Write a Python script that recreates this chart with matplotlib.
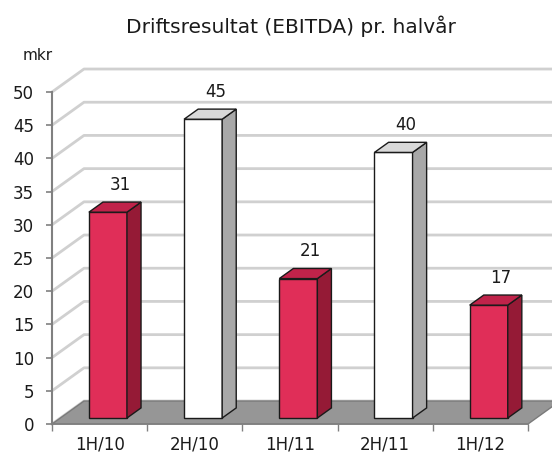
import matplotlib.pyplot as plt
from matplotlib.patches import Polygon

# Data
categories = ['1H/10', '2H/10', '1H/11', '2H/11', '1H/12']
values = [31, 45, 21, 40, 17]
bar_styles = ['red', 'white', 'red', 'white', 'red']

title = 'Driftsresultat (EBITDA) pr. halvår'
unit = 'mkr'

# Colours for the three visible faces of each bar (front, side, top)
face_colors = {
    'red': ('#e02e58', '#951a36', '#c0234a'),
    'white': ('#ffffff', '#a8a8a8', '#d9d9d9'),
}

# depth of the 3D box in data units (category units, value units)
DX, DY = 0.336, 3.46
D0, D1 = 0.26, 0.70    # bars sit between these depth fractions
BAR_W = 0.40

fig = plt.figure(figsize=(5.52, 4.55), dpi=100)
ax = fig.add_axes([52 / 552, 1 - 424 / 455, 476 / 552, 332 / 455])
ax.set_xlim(-0.5, 4.5)
ax.set_ylim(0, 50)
ax.patch.set_visible(False)

n = len(categories)
x0, x1 = -0.5, n - 0.5

# gridlines along left wall and back wall
for v in range(0, 51, 5):
    ax.plot([x0, x0 + DX, x1 + DX + 0.2], [v, v + DY, v + DY],
            color='#d0d0d0', lw=2, clip_on=False, zorder=1)

# floor
floor = Polygon([(x0, 0), (x1, 0), (x1 + DX, DY), (x0 + DX, DY)],
                closed=True, facecolor='#969696', edgecolor='#7a7a7a',
                lw=1, clip_on=False, zorder=2)
ax.add_patch(floor)

# bars
for i, (v, style) in enumerate(zip(values, bar_styles)):
    front_c, side_c, top_c = face_colors[style]
    xl = i - BAR_W / 2 + D0 * DX
    xr = xl + BAR_W
    yb = D0 * DY
    yt = yb + v
    ddx = (D1 - D0) * DX
    ddy = (D1 - D0) * DY
    front = Polygon([(xl, yb), (xr, yb), (xr, yt), (xl, yt)], closed=True,
                    facecolor=front_c, edgecolor='#1a1a1a', lw=1,
                    clip_on=False, zorder=3)
    side = Polygon([(xr, yb), (xr + ddx, yb + ddy), (xr + ddx, yt + ddy), (xr, yt)],
                   closed=True, facecolor=side_c, edgecolor='#1a1a1a', lw=1,
                   clip_on=False, zorder=3)
    top = Polygon([(xl, yt), (xr, yt), (xr + ddx, yt + ddy), (xl + ddx, yt + ddy)],
                  closed=True, facecolor=top_c, edgecolor='#1a1a1a', lw=1,
                  clip_on=False, zorder=3)
    for p in (front, side, top):
        ax.add_patch(p)
    ax.text(i + D0 * DX + ddx / 2 + 0.055, yt + ddy + 2.6, str(v), ha='center',
            va='center', fontsize=12, color='#1a1a1a', zorder=4)

# axes styling
for s in ['top', 'right']:
    ax.spines[s].set_visible(False)
ax.spines['left'].set_color('#808080')
ax.spines['bottom'].set_color('#808080')
ax.spines['left'].set_linewidth(1.5)
ax.spines['bottom'].set_linewidth(1.2)

ax.set_yticks(range(0, 51, 5))
ax.tick_params(axis='y', length=4, width=1.2, color='#808080', pad=9,
               labelsize=12, labelcolor='#1a1a1a')
ax.set_xticks(range(n))
ax.set_xticklabels(categories)
ax.set_xticks([k - 0.5 for k in range(n + 1)], minor=True)
ax.tick_params(axis='x', which='major', length=0, pad=8, labelsize=12,
               labelcolor='#1a1a1a')
ax.tick_params(axis='x', which='minor', length=5, width=1, color='#808080')

fig.text(291 / 552, 1 - 26 / 455, title, ha='center', va='center',
         fontsize=14.5, color='#1a1a1a')
fig.text(38 / 552, 1 - 56 / 455, unit, ha='center', va='center',
         fontsize=11, color='#1a1a1a')

fig.savefig('out.png', dpi=100)
